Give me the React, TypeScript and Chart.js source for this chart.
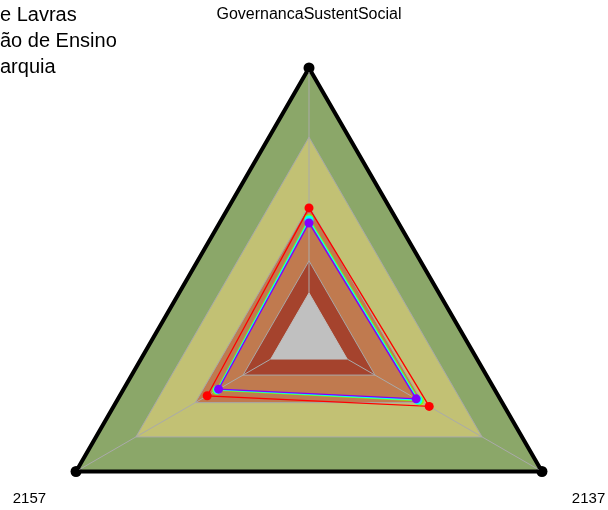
import React, { useEffect, useRef } from "react";
import { Chart, registerables } from "chart.js";

Chart.register(...registerables);

// Axis labels in clockwise order starting at the top
const axisLabels = ["GovernancaSustentSocial", "2137", "2157"];

// Series (values as fraction of the full scale, same order as axisLabels)
const seriesNames = ["Série 4", "Série 3", "Série 2", "Série 1"];
const seriesColors = ["#8000FF", "#00FFFF", "#80FF00", "#FF0000"];
const violetValues = [0.424, 0.46, 0.388];
const cyanValues = [0.435, 0.468, 0.392];
const greenValues = [0.44, 0.474, 0.396];
const redValues = [0.48, 0.516, 0.437];

// Background bands (innermost first)
const bandValues = [0.164, 0.283, 0.488, 0.743, 1.0];
const bandColors = ["#C0C0C0", "#A5432D", "#C07A4F", "#C2C174", "#8BA769"];

// Legend texts
const legendPrefixes = ["Universidade Federal d", "Média da Instituiç", "Média da Aut"];
const legendSuffixes = ["e Lavras", "ão de Ensino", "arquia"];

const TOP_LABEL_FONT = "16px 'Liberation Sans', Arial, sans-serif";
const LABEL_FONT = "15px 'Liberation Sans', Arial, sans-serif";

export default function App() {
  const canvasRef = useRef<HTMLCanvasElement | null>(null);

  useEffect(() => {
    const canvas = canvasRef.current;
    if (!canvas) return;

    const seriesData = [violetValues, cyanValues, greenValues, redValues];
    const seriesSets = seriesData.map((vals, i) => ({
      label: seriesNames[i],
      data: vals,
      fill: false,
      borderColor: seriesColors[i],
      borderWidth: 1.3,
      pointRadius: 4.5,
      pointBackgroundColor: seriesColors[i],
      pointBorderWidth: 0,
      clip: false as const,
    }));

    const bandSets = bandValues.map((v, i) => {
      const outer = i === bandValues.length - 1;
      return {
        label: "band" + i,
        data: axisLabels.map(() => v),
        fill: "origin",
        backgroundColor: bandColors[i],
        borderColor: outer ? "#000000" : i === 0 ? bandColors[0] : "#A8A8A8",
        borderWidth: outer ? 4 : 1,
        pointRadius: outer ? 5.5 : 0,
        pointBackgroundColor: "#000000",
        pointBorderWidth: 0,
        clip: false as const,
      };
    });

    const greyBandIndex = seriesSets.length;

    const overlay = {
      id: "overlay",
      afterDatasetDraw(chart: any, args: any) {
        if (args.index !== greyBandIndex) return;
        const r = chart.scales.r;
        const ctx = chart.ctx;
        ctx.save();
        ctx.strokeStyle = "#AAAAAA";
        ctx.lineWidth = 1;
        for (let i = 0; i < axisLabels.length; i++) {
          const a = r.getPointPositionForValue(i, bandValues[0]);
          const p = r.getPointPositionForValue(i, 0.985);
          ctx.beginPath();
          ctx.moveTo(a.x, a.y);
          ctx.lineTo(p.x, p.y);
          ctx.stroke();
        }
        ctx.restore();
      },
      afterDraw(chart: any) {
        const r = chart.scales.r;
        const ctx = chart.ctx;
        ctx.save();
        ctx.fillStyle = "#000000";
        ctx.textAlign = "center";
        ctx.textBaseline = "middle";
        for (let i = 0; i < axisLabels.length; i++) {
          ctx.font = i === 0 ? TOP_LABEL_FONT : LABEL_FONT;
          const p = r.getPointPositionForValue(i, 1.2);
          ctx.fillText(axisLabels[i], p.x, p.y);
        }
        ctx.restore();
      },
    };

    const chart = new Chart(canvas, {
      type: "radar",
      data: {
        labels: axisLabels,
        datasets: [...seriesSets, ...bandSets] as any,
      },
      options: {
        responsive: false,
        animation: false,
        layout: { padding: { left: 40, right: 40, top: 68, bottom: 68 } },
        plugins: {
          legend: { display: false },
          tooltip: { enabled: false },
        },
        elements: { line: { tension: 0 } },
        scales: {
          r: {
            min: 0,
            max: 1,
            ticks: { display: false },
            grid: { display: false },
            angleLines: { display: false },
            pointLabels: { display: false },
          },
        },
      },
      plugins: [overlay],
    });

    return () => chart.destroy();
  }, []);

  return (
    <div
      style={{
        position: "fixed",
        left: 0,
        top: 0,
        width: 608,
        height: 510,
        overflow: "hidden",
        background: "#ffffff",
      }}
    >
      <canvas
        ref={canvasRef}
        width={618}
        height={674}
        style={{ position: "absolute", left: 0, top: 0, width: 618, height: 674 }}
      />
      <div
        style={{
          position: "absolute",
          left: 0,
          top: 1,
          fontFamily: "'Liberation Sans', Arial, sans-serif",
          fontSize: 20,
          lineHeight: "26px",
          color: "#000000",
          whiteSpace: "nowrap",
        }}
      >
        {legendSuffixes.map((s, i) => (
          <div key={i} style={{ position: "relative" }}>
            <span style={{ position: "absolute", right: "100%", top: 0 }}>{legendPrefixes[i]}</span>
            {s}
          </div>
        ))}
      </div>
    </div>
  );
}
